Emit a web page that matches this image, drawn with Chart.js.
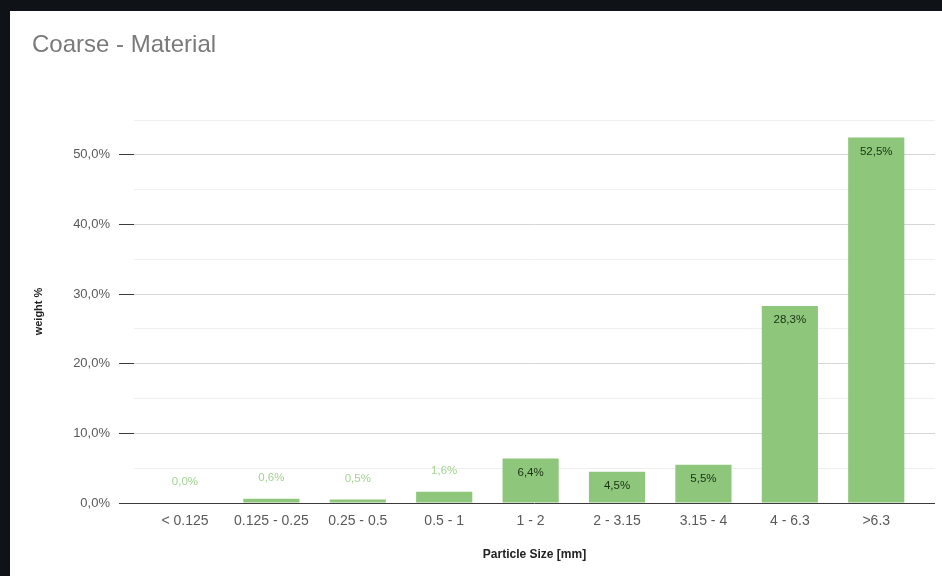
<!DOCTYPE html>
<html>
<head>
<meta charset="utf-8">
<script src="https://cdn.jsdelivr.net/npm/chart.js@4.4.1/dist/chart.umd.min.js"></script>
<style>
  html, body { margin: 0; padding: 0; background: #0f1318; width: 942px; height: 576px; overflow: hidden; }
  #card { position: absolute; left: 10px; top: 11px; width: 932px; height: 565px; background: #ffffff; }
  canvas { display: block; }
</style>
</head>
<body>
<div id="card"><canvas id="c" width="932" height="565"></canvas></div>
<script>
const categories = ["< 0.125", "0.125 - 0.25", "0.25 - 0.5", "0.5 - 1", "1 - 2", "2 - 3.15", "3.15 - 4", "4 - 6.3", ">6.3"];
const weightPercent = [0.0, 0.6, 0.5, 1.6, 6.4, 4.5, 5.5, 28.3, 52.5];
const yTickValues = [0, 10, 20, 30, 40, 50];
const chartTitle = "Coarse - Material";
const xTitle = "Particle Size [mm]";
const yTitle = "weight %";

const fmt = v => v.toFixed(1).replace('.', ',') + '%';

const labelPlugin = {
  id: 'barLabels',
  afterDatasetsDraw(chart) {
    const ctx = chart.ctx;
    const meta = chart.getDatasetMeta(0);
    ctx.save();
    ctx.font = '11.5px Arial, "Liberation Sans", sans-serif';
    ctx.textAlign = 'center';
    ctx.textBaseline = 'middle';
    meta.data.forEach((bar, i) => {
      const v = weightPercent[i];
      if (v >= 3) {
        ctx.fillStyle = '#183212';
        ctx.fillText(fmt(v), bar.x, bar.y + 14);
      } else {
        ctx.fillStyle = '#a3d392';
        ctx.fillText(fmt(v), bar.x, bar.y - 21);
      }
    });
    ctx.restore();
  }
};

new Chart(document.getElementById('c'), {
  type: 'bar',
  data: {
    datasets: [{
      data: weightPercent.map((v, i) => ({ x: i, y: v })),
      backgroundColor: '#8ec67c',
      borderWidth: 0,
      barPercentage: 0.65,
      categoryPercentage: 1.0
    }]
  },
  options: {
    responsive: false,
    animation: false,
    layout: { padding: { left: 22, right: 7, top: 0, bottom: 0 } },
    plugins: {
      legend: { display: false },
      tooltip: { enabled: false },
      title: {
        display: true,
        text: chartTitle,
        align: 'start',
        color: '#7a7a7a',
        font: { family: 'Arial, "Liberation Sans", sans-serif', size: 24, weight: 'normal' },
        padding: { top: 20, bottom: 60.2 }
      }
    },
    scales: {
      x: {
        type: 'linear',
        offset: false,
        min: -0.59,
        max: 8.68,
        afterBuildTicks: s => { s.ticks = categories.map((_, i) => ({ value: i })); },
        afterFit: s => { s.height = 73; },
        grid: { display: false, drawTicks: false, offset: false },
        border: { display: false },
        ticks: {
          autoSkip: false,
          maxRotation: 0,
          padding: 10,
          color: '#5a5a5a',
          font: { family: 'Arial, "Liberation Sans", sans-serif', size: 14 },
          callback: v => categories[v] ?? ''
        },
        title: {
          display: true,
          text: xTitle,
          color: '#222222',
          font: { family: 'Arial, "Liberation Sans", sans-serif', size: 12, weight: 'bold' },
          padding: { top: 2, bottom: 14 }
        }
      },
      y: {
        min: 0,
        max: 55,
        afterBuildTicks: s => {
          const t = [];
          for (let v = 0; v <= 55; v += 5) t.push({ value: v });
          s.ticks = t;
        },
        afterFit: s => { s.width = 102; },
        border: { display: false },
        grid: {
          drawTicks: true,
          tickLength: 15,
          lineWidth: 1,
          color: c => {
            const v = c.tick ? c.tick.value : 0;
            if (v === 0) return '#3a3a3a';
            return v % 10 === 0 ? '#d6d6d6' : '#efefef';
          },
          tickColor: c => {
            const v = c.tick ? c.tick.value : 0;
            return v % 10 === 0 ? '#3a3a3a' : 'rgba(0,0,0,0)';
          }
        },
        ticks: {
          padding: 9,
          color: '#5a5a5a',
          font: { family: 'Arial, "Liberation Sans", sans-serif', size: 13 },
          callback: v => (yTickValues.includes(v) ? fmt(v) : '')
        },
        title: {
          display: true,
          text: yTitle,
          color: '#222222',
          font: { family: 'Arial, "Liberation Sans", sans-serif', size: 11, weight: 'bold' },
          padding: { top: 0, bottom: 0 }
        }
      }
    }
  },
  plugins: [labelPlugin]
});
</script>
</body>
</html>
